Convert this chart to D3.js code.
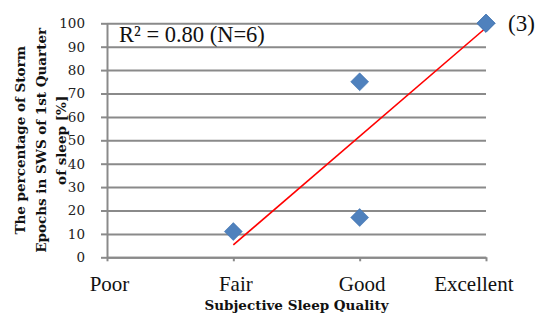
<!DOCTYPE html>
<html>
<head>
<meta charset="utf-8">
<script src="https://cdn.jsdelivr.net/npm/d3@7"></script>
<style>
  body { margin: 0; background: #fff; }
  svg { display: block; }
</style>
</head>
<body>
<div id="chart"></div>
<script>
// category labels on the x axis (position 1..4)
let categories = ["Poor", "Fair", "Good", "Excellent"];
// subjects: sleep quality rating (1=Poor .. 4=Excellent) and storm percentage
let qualityValues = [2, 3, 3, 4, 4, 4];
let stormValues = [11, 17, 75, 100, 100, 100];
let yTicks = [0, 10, 20, 30, 40, 50, 60, 70, 80, 90, 100];

let width = 546, height = 314;
let margin = {left: 107, right: 60, top: 23.3, bottom: 56.7};

let svg = d3.select("#chart")
  .append("svg")
    .attr("width", width)
    .attr("height", height);

let xScale = d3.scaleLinear()
  .domain([1, 4])
  .range([margin.left, width - margin.right]);

let yScale = d3.scaleLinear()
  .domain([0, 100])
  .range([height - margin.bottom, margin.top]);

let gridColor = "#8a8a8a";

// horizontal grid lines
svg.append("g")
  .attr("transform", "translate(" + margin.left + ",0)")
  .call(d3.axisLeft(yScale).tickValues(yTicks).tickFormat("")
    .tickSize(-(width - margin.left - margin.right)))
  .call(g => g.select(".domain").remove())
  .call(g => g.selectAll("line").attr("stroke", gridColor).attr("stroke-width", 2));

// y axis
svg.append("g")
  .attr("transform", "translate(" + margin.left + ",0)")
  .call(d3.axisLeft(yScale).tickValues(yTicks).tickSize(6).tickPadding(16).tickSizeOuter(0))
  .call(g => g.select(".domain").attr("stroke", gridColor).attr("stroke-width", 2))
  .call(g => g.selectAll("line").attr("stroke", gridColor).attr("stroke-width", 2))
  .call(g => g.selectAll("text")
    .attr("font-family", "DejaVu Serif")
    .attr("font-size", "13.5px")
    .attr("fill", "#222"));

// x axis
svg.append("g")
  .attr("transform", "translate(0," + (height - margin.bottom) + ")")
  .call(d3.axisBottom(xScale).tickValues([1, 2, 3, 4]).tickSize(4).tickSizeOuter(0)
    .tickFormat(i => categories[i - 1]))
  .call(g => g.select(".domain").attr("stroke", gridColor).attr("stroke-width", 2))
  .call(g => g.selectAll("line").attr("stroke", gridColor).attr("stroke-width", 2))
  .call(g => g.selectAll("text")
    .attr("font-family", "Liberation Serif")
    .attr("font-size", "21px")
    .attr("fill", "#111")
    .attr("y", 34)
    .attr("dy", 0)
    .attr("dx", 2))
  .call(g => g.selectAll(".tick").filter(d => d === 4).select("text")
    .attr("text-anchor", "end")
    .attr("dx", 27));

// linear trend line (least squares)
let mx = d3.mean(qualityValues), my = d3.mean(stormValues);
let sxy = d3.sum(qualityValues, (x, i) => (x - mx) * (stormValues[i] - my));
let sxx = d3.sum(qualityValues, x => (x - mx) * (x - mx));
let slope = sxy / sxx;
let intercept = my - slope * mx;
let xExtent = d3.extent(qualityValues);

svg.append("line")
  .attr("x1", xScale(xExtent[0]))
  .attr("y1", yScale(intercept + slope * xExtent[0]))
  .attr("x2", xScale(xExtent[1]))
  .attr("y2", yScale(intercept + slope * xExtent[1]))
  .attr("stroke", "#ff0000")
  .attr("stroke-width", 1.6);

// data points (diamonds)
svg.selectAll(".pt")
  .data(qualityValues.map((x, i) => ({x: x, y: stormValues[i]})))
  .enter()
  .append("path")
    .attr("class", "pt")
    .attr("d", d3.symbol().type(d3.symbolSquare).size(160))
    .attr("transform", d => "translate(" + xScale(d.x) + "," + yScale(d.y) + ") rotate(45)")
    .attr("fill", "#4f81bd")
    .attr("stroke", "#4576b2")
    .attr("stroke-width", 0.6);

// R squared annotation
svg.append("text")
  .attr("x", 119)
  .attr("y", 42)
  .attr("font-family", "Liberation Serif")
  .attr("font-size", "22.5px")
  .attr("fill", "#111")
  .text("R² = 0.80 (N=6)");

// overlap count next to Excellent point
svg.append("text")
  .attr("x", 508)
  .attr("y", 31)
  .attr("font-family", "Liberation Serif")
  .attr("font-size", "23px")
  .attr("fill", "#111")
  .text("(3)");

// x axis title
svg.append("text")
  .attr("x", (margin.left + width - margin.right) / 2)
  .attr("y", 310)
  .attr("text-anchor", "middle")
  .attr("font-family", "DejaVu Serif")
  .attr("font-weight", "bold")
  .attr("font-size", "13.5px")
  .attr("fill", "#111")
  .text("Subjective Sleep Quality");

// y axis title (three lines)
let yTitleLines = ["The percentage of Storm", "Epochs in SWS of 1st Quarter", "of sleep [%]"];
let yTitle = svg.append("text")
  .attr("transform", "translate(0," + ((margin.top + height - margin.bottom) / 2) + ") rotate(-90)")
  .attr("text-anchor", "middle")
  .attr("font-family", "DejaVu Serif")
  .attr("font-weight", "bold")
  .attr("font-size", "13.5px")
  .attr("fill", "#111");

yTitle.selectAll("tspan")
  .data(yTitleLines)
  .enter()
  .append("tspan")
    .attr("x", 0)
    .attr("y", (d, i) => 25 + i * 20.5)
    .text(d => d);
</script>
</body>
</html>
